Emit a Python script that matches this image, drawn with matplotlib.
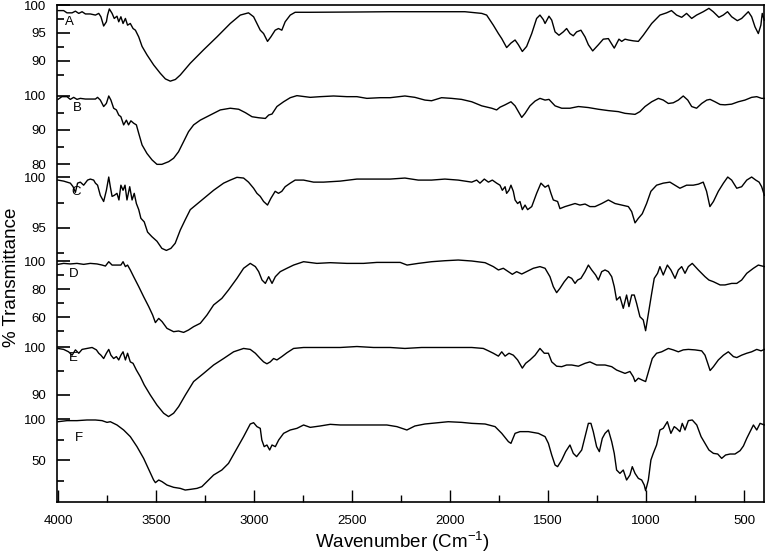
import matplotlib
matplotlib.use("Agg")
import matplotlib.pyplot as plt
from matplotlib.ticker import FixedLocator, NullFormatter

plt.rcParams['font.family'] = ['Liberation Sans', 'DejaVu Sans']
plt.rcParams['mathtext.fontset'] = 'custom'
plt.rcParams['mathtext.rm'] = 'Liberation Sans'
plt.rcParams['mathtext.it'] = 'Liberation Sans'

# ---------------- data (wavenumber cm-1, % transmittance) ----------------
wn_A = [4000, 3971, 3954, 3928, 3911, 3894, 3877, 3860, 3835, 3809, 3792, 3781, 3767, 3753, 3747, 3738, 3724, 3713, 3699, 3690,
        3679, 3668, 3656, 3645, 3631, 3617, 3605, 3588, 3571, 3546, 3512, 3478, 3452, 3427, 3401, 3376, 3325, 3257, 3189, 3121,
        3070, 3028, 3002, 2985, 2968, 2951, 2931, 2914, 2892, 2875, 2858, 2841, 2815, 2790, 2713, 2475, 2305, 2230, 2060, 1924,
        1838, 1813, 1779, 1753, 1736, 1711, 1689, 1668, 1651, 1631, 1609, 1583, 1558, 1541, 1524, 1515, 1495, 1481, 1464, 1444,
        1422, 1405, 1388, 1371, 1354, 1332, 1311, 1294, 1272, 1243, 1218, 1192, 1162, 1138, 1124, 1107, 1090, 1065, 1039, 1014,
        971, 929, 895, 870, 844, 818, 793, 767, 742, 708, 679, 657, 628, 606, 584, 563, 534, 512, 495, 478,
        461, 444, 427, 414, 407, 397]
t_A = [99.0, 99.0, 98.6, 98.6, 98.9, 98.5, 98.8, 98.4, 98.4, 98.2, 98.5, 97.9, 96.25, 97.0, 98.2, 99.3, 98.5, 97.6, 98.0, 97.0,
       97.9, 96.7, 97.6, 96.4, 96.7, 95.8, 95.5, 94.3, 92.6, 91.1, 89.3, 87.8, 86.8, 86.4, 86.7, 87.5, 89.6, 92.0, 94.3, 96.7,
       98.2, 98.6, 97.9, 96.7, 95.5, 94.9, 93.5, 94.3, 95.5, 95.8, 95.5, 97.0, 98.2, 98.7, 98.7, 98.75, 98.8, 98.8, 98.8, 98.8,
       98.5, 98.2, 96.4, 94.9, 94.0, 92.4, 93.2, 93.75, 92.9, 91.7, 92.6, 94.9, 97.6, 98.2, 97.4, 96.7, 98.0, 97.3, 95.2, 94.6,
       95.2, 95.8, 94.9, 94.5, 95.2, 95.5, 94.3, 92.9, 91.8, 92.9, 93.9, 94.0, 92.3, 93.9, 93.5, 93.9, 93.75, 93.6, 93.5, 94.6,
       96.7, 98.2, 98.6, 99.0, 98.2, 97.8, 98.5, 97.6, 98.2, 98.8, 99.4, 98.8, 97.8, 98.2, 98.8, 97.9, 97.2, 97.6, 98.2, 98.8,
       97.9, 96.1, 94.9, 96.4, 98.5, 97.3]

wn_B = [4000, 3980, 3954, 3937, 3920, 3903, 3886, 3860, 3835, 3809, 3798, 3784, 3767, 3753, 3741, 3730, 3716, 3702, 3690, 3679,
        3665, 3651, 3640, 3628, 3614, 3600, 3588, 3571, 3546, 3520, 3495, 3470, 3435, 3410, 3385, 3359, 3334, 3308, 3274, 3223,
        3172, 3121, 3078, 3044, 3010, 2976, 2942, 2925, 2908, 2883, 2849, 2815, 2781, 2713, 2662, 2594, 2526, 2475, 2424, 2356,
        2305, 2230, 2179, 2128, 2094, 2043, 1992, 1941, 1889, 1838, 1787, 1762, 1745, 1719, 1689, 1668, 1651, 1634, 1617, 1592,
        1566, 1541, 1515, 1495, 1464, 1430, 1388, 1345, 1294, 1243, 1192, 1141, 1107, 1056, 1031, 1005, 971, 937, 912, 886,
        861, 835, 810, 787, 767, 742, 716, 690, 673, 648, 622, 597, 563, 529, 495, 461, 435, 410, 397]
t_B = [99.0, 99.8, 99.8, 99.0, 99.6, 99.0, 99.3, 99.1, 99.1, 99.1, 99.6, 98.8, 96.9, 97.8, 100.0, 98.8, 96.4, 95.9, 94.4, 93.9,
       91.5, 92.9, 91.5, 92.7, 92.0, 91.5, 89.0, 85.6, 83.1, 81.2, 79.9, 79.9, 80.7, 81.7, 83.6, 86.6, 89.5, 91.5, 92.9, 94.4,
       95.9, 96.4, 96.1, 95.1, 93.9, 93.6, 93.4, 94.4, 94.7, 96.9, 98.3, 99.5, 100.1, 99.6, 99.8, 100.0, 99.8, 99.8, 99.3, 99.5,
       99.5, 100.0, 99.6, 98.8, 98.6, 99.5, 99.3, 99.0, 98.3, 97.1, 96.4, 95.9, 96.7, 97.4, 98.3, 97.1, 95.4, 93.7, 94.9, 97.1,
       98.5, 99.3, 98.8, 99.0, 97.1, 96.4, 96.4, 96.9, 96.6, 96.1, 95.7, 95.4, 94.9, 94.6, 95.4, 96.9, 98.3, 99.3, 98.8, 97.8,
       98.0, 98.8, 100.0, 98.8, 96.9, 96.4, 97.8, 98.8, 99.0, 98.3, 97.5, 97.4, 97.6, 98.3, 98.8, 99.6, 99.8, 99.3, 99.3]

wn_C = [4000, 3971, 3937, 3923, 3911, 3900, 3886, 3869, 3849, 3835, 3818, 3809, 3798, 3784, 3767, 3753, 3741, 3733, 3724, 3713,
        3699, 3689, 3679, 3668, 3658, 3648, 3634, 3622, 3611, 3600, 3588, 3577, 3560, 3543, 3521, 3495, 3470, 3447, 3424, 3402,
        3376, 3351, 3325, 3300, 3257, 3206, 3155, 3121, 3087, 3053, 3028, 3002, 2985, 2968, 2951, 2931, 2914, 2892, 2875, 2858,
        2841, 2815, 2790, 2747, 2696, 2645, 2560, 2475, 2390, 2305, 2230, 2162, 2094, 2026, 1958, 1924, 1889, 1864, 1847, 1825,
        1804, 1784, 1762, 1745, 1733, 1719, 1711, 1699, 1689, 1677, 1668, 1655, 1643, 1631, 1617, 1604, 1583, 1558, 1536, 1515,
        1498, 1485, 1473, 1451, 1439, 1413, 1388, 1362, 1337, 1311, 1286, 1260, 1226, 1192, 1158, 1124, 1090, 1073, 1056, 1039,
        1019, 997, 975, 946, 912, 878, 852, 827, 793, 759, 733, 708, 691, 674, 656, 631, 605, 583, 563, 537,
        512, 486, 461, 440, 423, 410, 396]
t_C = [99.7, 99.6, 99.4, 99.05, 98.5, 99.4, 99.5, 99.2, 99.7, 99.8, 99.7, 99.4, 99.2, 98.2, 97.6, 98.7, 100.0, 99.05, 98.1, 98.2,
       98.4, 97.75, 99.2, 98.7, 99.2, 97.75, 99.05, 97.75, 98.4, 97.4, 96.8, 95.95, 95.6, 94.6, 94.15, 93.7, 93.0, 92.8, 93.0, 93.5,
       94.8, 95.8, 96.8, 97.2, 97.9, 98.7, 99.4, 99.7, 99.97, 99.9, 99.5, 98.9, 98.4, 98.1, 97.6, 97.25, 97.9, 98.6, 98.4, 98.6,
       99.05, 99.4, 99.7, 99.7, 99.5, 99.5, 99.6, 99.8, 99.8, 99.8, 99.9, 99.7, 99.7, 99.8, 99.7, 99.6, 99.5, 99.7, 99.4, 99.8,
       99.5, 99.7, 99.4, 99.2, 98.7, 99.05, 98.4, 98.7, 99.2, 98.6, 97.75, 97.4, 97.6, 96.8, 97.25, 96.8, 97.1, 98.4, 99.4, 99.0,
       99.2, 98.4, 97.75, 97.6, 96.9, 97.1, 97.25, 97.4, 97.25, 97.35, 97.1, 97.1, 97.4, 97.75, 97.4, 97.25, 97.1, 96.6, 95.5, 95.95,
       96.4, 97.4, 98.6, 99.2, 99.4, 99.5, 99.2, 98.9, 99.2, 99.2, 99.3, 99.5, 98.6, 97.1, 97.6, 98.6, 99.4, 100.0, 99.7, 98.9,
       99.05, 99.7, 100.0, 99.7, 99.5, 99.05, 98.2]

wn_D = [4000, 3971, 3937, 3903, 3869, 3835, 3801, 3775, 3758, 3741, 3724, 3699, 3679, 3668, 3656, 3645, 3631, 3614, 3588, 3563,
        3537, 3517, 3503, 3486, 3469, 3444, 3410, 3385, 3359, 3334, 3308, 3274, 3240, 3206, 3164, 3130, 3087, 3053, 3019, 2993,
        2976, 2959, 2942, 2925, 2908, 2891, 2866, 2832, 2798, 2747, 2679, 2611, 2526, 2441, 2373, 2305, 2254, 2219, 2162, 2094,
        2026, 1958, 1889, 1821, 1779, 1753, 1728, 1702, 1682, 1660, 1634, 1609, 1575, 1541, 1515, 1490, 1473, 1456, 1439, 1417,
        1396, 1379, 1362, 1349, 1332, 1311, 1294, 1277, 1257, 1243, 1226, 1209, 1192, 1175, 1162, 1150, 1133, 1116, 1099, 1087,
        1073, 1060, 1048, 1031, 1014, 1002, 985, 971, 958, 941, 929, 912, 891, 873, 852, 835, 818, 801, 784, 764,
        733, 699, 679, 656, 622, 597, 563, 537, 512, 486, 452, 427, 396]
t_D = [97.6, 98.3, 97.9, 98.3, 97.6, 98.3, 97.9, 97.1, 96.4, 99.5, 97.1, 97.1, 97.1, 99.5, 96.0, 97.1, 93.6, 88.8, 81.7, 74.5,
       67.4, 61.4, 56.0, 59.0, 56.7, 51.9, 49.5, 50.0, 49.0, 50.7, 53.1, 55.5, 61.4, 68.6, 73.3, 79.3, 87.6, 94.8, 98.3, 96.0,
       92.4, 86.4, 84.0, 88.8, 84.0, 88.8, 92.4, 94.8, 97.1, 99.5, 98.3, 98.8, 98.3, 98.3, 99.0, 99.0, 99.0, 97.1, 98.3, 99.5,
       100.2, 100.7, 100.0, 98.8, 96.0, 93.6, 94.8, 92.4, 90.5, 92.4, 90.7, 92.4, 94.8, 96.0, 94.8, 88.8, 81.7, 77.4, 80.5, 85.2,
       88.8, 87.6, 84.0, 86.4, 87.6, 92.4, 97.1, 93.6, 90.0, 86.4, 92.4, 93.6, 92.4, 88.8, 81.7, 72.1, 74.5, 66.2, 75.7, 67.4,
       75.7, 75.7, 69.8, 60.2, 57.9, 50.2, 65.0, 76.9, 87.6, 91.2, 96.0, 90.0, 97.1, 93.6, 87.6, 93.6, 96.0, 91.2, 96.0, 98.3,
       93.6, 88.8, 86.4, 85.2, 82.9, 82.9, 84.0, 84.0, 86.4, 91.2, 94.8, 97.1, 96.0]

wn_E = [4000, 3971, 3946, 3928, 3911, 3894, 3877, 3852, 3826, 3804, 3792, 3781, 3767, 3753, 3741, 3730, 3716, 3702, 3690, 3679,
        3668, 3656, 3645, 3631, 3617, 3600, 3580, 3560, 3529, 3495, 3461, 3436, 3410, 3384, 3350, 3308, 3257, 3206, 3155, 3104,
        3053, 3019, 2993, 2968, 2951, 2934, 2917, 2900, 2883, 2858, 2832, 2798, 2747, 2645, 2560, 2475, 2390, 2305, 2230, 2145,
        2060, 1974, 1889, 1830, 1804, 1779, 1753, 1736, 1719, 1699, 1677, 1655, 1631, 1614, 1592, 1566, 1541, 1519, 1498, 1481,
        1456, 1430, 1405, 1379, 1345, 1311, 1286, 1252, 1209, 1175, 1150, 1107, 1082, 1065, 1056, 1039, 1019, 1002, 985, 968,
        946, 920, 886, 861, 835, 810, 784, 750, 716, 699, 685, 673, 656, 631, 605, 580, 554, 537, 512, 486,
        461, 435, 413, 396]
t_E = [99.7, 99.5, 99.0, 98.3, 99.4, 98.7, 99.5, 99.7, 99.9, 99.4, 98.7, 98.3, 97.6, 98.7, 99.5, 98.3, 97.6, 98.0, 97.3, 98.3,
       99.0, 97.3, 98.7, 96.9, 96.6, 95.2, 93.8, 92.1, 90.0, 87.9, 86.2, 85.5, 86.2, 87.6, 90.0, 92.8, 94.5, 96.25, 97.6, 99.0,
       99.7, 99.5, 98.7, 97.6, 96.9, 96.5, 96.9, 97.6, 97.3, 98.0, 98.8, 99.7, 99.9, 99.9, 99.9, 100.1, 99.9, 99.9, 99.7, 99.9,
       99.9, 99.9, 99.9, 99.7, 99.2, 98.7, 98.1, 99.0, 98.1, 98.7, 98.3, 97.3, 95.6, 96.6, 97.3, 98.3, 99.7, 98.7, 98.7, 96.9,
       96.0, 95.9, 96.25, 96.25, 96.0, 96.6, 96.9, 96.25, 96.25, 95.9, 95.2, 94.5, 94.9, 93.8, 92.8, 93.5, 93.1, 92.8, 95.2, 97.6,
       98.7, 99.0, 99.7, 99.4, 99.0, 99.4, 99.5, 99.4, 99.2, 98.3, 96.6, 95.1, 95.9, 97.3, 98.3, 99.0, 98.0, 97.8, 98.3, 98.7,
       99.0, 99.5, 99.2, 99.5]

wn_F = [4000, 3954, 3903, 3852, 3809, 3775, 3750, 3733, 3699, 3665, 3631, 3597, 3563, 3532, 3512, 3503, 3486, 3469, 3444, 3410,
        3376, 3351, 3325, 3291, 3266, 3240, 3206, 3164, 3130, 3087, 3053, 3019, 3002, 2985, 2968, 2960, 2948, 2934, 2920, 2908,
        2891, 2874, 2849, 2815, 2781, 2747, 2713, 2662, 2611, 2560, 2509, 2441, 2390, 2322, 2271, 2220, 2179, 2128, 2060, 2009,
        1941, 1889, 1821, 1770, 1736, 1702, 1689, 1668, 1643, 1600, 1549, 1515, 1498, 1481, 1464, 1451, 1430, 1410, 1388, 1371,
        1354, 1328, 1311, 1294, 1281, 1269, 1252, 1238, 1223, 1209, 1192, 1175, 1162, 1150, 1133, 1116, 1099, 1082, 1070, 1056,
        1039, 1022, 1009, 1002, 988, 975, 963, 946, 929, 912, 891, 873, 856, 844, 827, 815, 801, 784, 764, 741,
        719, 699, 679, 656, 634, 614, 594, 571, 546, 520, 503, 486, 469, 452, 435, 418, 396]
t_F = [96.7, 98.0, 98.0, 98.8, 98.8, 98.0, 95.9, 96.7, 92.7, 86.6, 78.5, 66.3, 52.0, 35.8, 25.6, 22.4, 25.6, 23.6, 19.5, 16.7,
       15.4, 13.4, 14.2, 15.4, 17.5, 23.6, 31.7, 37.8, 45.9, 64.2, 78.5, 93.9, 95.5, 90.7, 88.6, 74.4, 66.3, 68.3, 62.2, 68.3,
       66.3, 74.4, 82.5, 86.6, 88.6, 92.7, 89.8, 91.5, 93.5, 92.7, 92.7, 92.7, 92.7, 92.7, 90.7, 86.6, 91.5, 93.9, 95.5, 96.7,
       95.9, 94.7, 93.9, 90.7, 82.5, 72.4, 70.3, 82.5, 84.6, 84.6, 82.5, 78.5, 70.3, 56.1, 43.9, 41.9, 50.0, 60.2, 68.3, 58.1,
       54.1, 62.2, 78.5, 94.7, 94.7, 84.6, 66.3, 60.2, 76.4, 82.5, 86.6, 72.4, 58.1, 37.8, 33.7, 37.8, 25.6, 31.7, 41.9, 33.7,
       27.6, 25.6, 19.5, 12.6, 25.6, 50.0, 58.1, 68.3, 86.6, 88.6, 96.7, 82.5, 90.7, 88.6, 84.6, 94.7, 86.6, 98.0, 98.8, 92.7,
       78.5, 70.3, 62.2, 58.1, 57.3, 52.0, 56.1, 57.3, 57.3, 61.4, 67.1, 76.4, 84.6, 92.7, 86.6, 94.7, 92.7]

labels = ["A", "B", "C", "D", "E", "F"]
wns = [wn_A, wn_B, wn_C, wn_D, wn_E, wn_F]
ts = [t_A, t_B, t_C, t_D, t_E, t_F]
major_ticks = [[90, 95, 100], [80, 90, 100], [95, 100], [60, 80, 100], [90, 100], [50, 100]]
minor_ticks = [[87.5, 92.5, 97.5], [85, 95], [92.5, 97.5], [50, 70, 90], [95], [25, 75]]

# ---------------- layout ----------------
W, H = 765, 555
fig = plt.figure(figsize=(W / 100, H / 100), dpi=100)
left_px, right_px, top_px, bot_px = 57, 764, 5, 502
XLIM = (4005, 398)

frame = fig.add_axes([left_px / W, (H - bot_px) / H, (right_px - left_px) / W, (bot_px - top_px) / H])
frame.set_xlim(*XLIM)
frame.set_ylim(0, 1)
frame.set_yticks([])
frame.set_xticks([4000, 3500, 3000, 2500, 2000, 1500, 1000, 500])
frame.set_xticks([3750, 3250, 2750, 2250, 1750, 1250, 750], minor=True)
frame.tick_params(axis='x', which='major', direction='in', length=9, width=1.0, labelsize=9.5, pad=9)
frame.tick_params(axis='x', which='minor', direction='in', length=5, width=1.0)
for s in frame.spines.values():
    s.set_linewidth(1.2)
frame.patch.set_facecolor('white')

# panel pixel bands (top, bottom) and y-limits (value at bottom, value at top)
bands = [(5, 90), (90, 170), (170, 255), (255, 340), (340, 415), (415, 502)]
ylims = [(84.82, 100.0), (78.24, 101.76), (92.35, 100.69), (43.57, 104.29), (85.83, 101.46), (-1.2, 104.88)]
label_pos = [(3965, 0.80), (3925, 0.78), (3930, 0.74), (3945, 0.78), (3945, 0.76), (3915, 0.74)]

for i in range(6):
    t, b = bands[i]
    ax = fig.add_axes([left_px / W, (H - b) / H, (right_px - left_px) / W, (b - t) / H])
    ax.patch.set_visible(False)
    for s in ax.spines.values():
        s.set_visible(False)
    ax.set_xlim(*XLIM)
    ax.set_ylim(*ylims[i])
    ax.set_xticks([])
    ax.plot(wns[i], ts[i], color='black', lw=1.0, clip_on=False)
    ax.yaxis.set_major_locator(FixedLocator(major_ticks[i]))
    ax.yaxis.set_minor_locator(FixedLocator(minor_ticks[i]))
    ax.yaxis.set_minor_formatter(NullFormatter())
    ax.tick_params(axis='y', which='major', direction='in', length=9, width=1.2, labelsize=9.5, pad=8)
    ax.tick_params(axis='y', which='minor', direction='in', length=5, width=1.2)
    lx, ly = label_pos[i]
    ax.text(lx, ylims[i][0] + ly * (ylims[i][1] - ylims[i][0]), labels[i], fontsize=9.5,
            ha='left', va='center')

fig.text(12 / W, 0.5, "% Transmittance", rotation=90, fontsize=13.5, ha='center', va='center')
fig.text(402 / W, 7 / H, r"Wavenumber (Cm$^{\mathregular{-1}}$)", fontsize=13.5,
         ha='center', va='baseline')

fig.savefig("out.png", dpi=100)
